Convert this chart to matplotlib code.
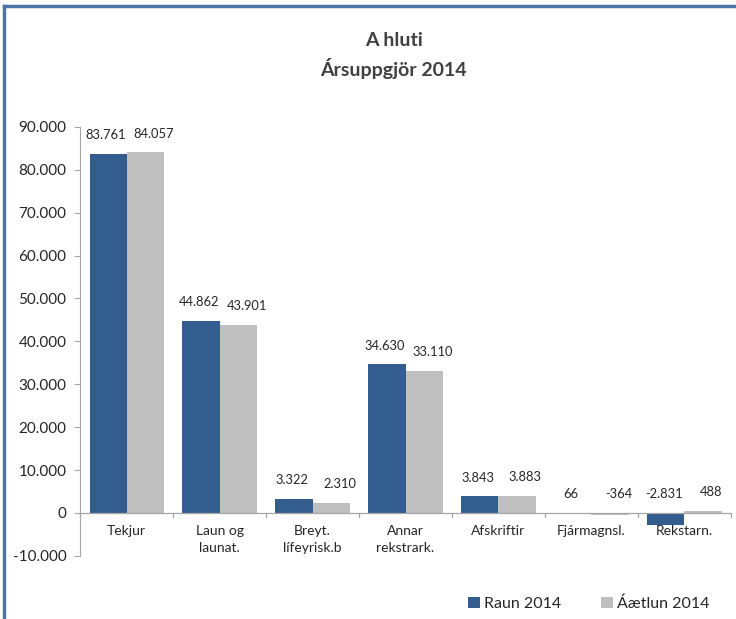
import matplotlib.pyplot as plt
import numpy as np
from matplotlib.lines import Line2D

categories = ['Tekjur', 'Laun og\nlaunat.', 'Breyt.\nlífeyrisk.b', 'Annar\nrekstrark.',
              'Afskriftir', 'Fjármagnsl.', 'Rekstarn.']
raun = [83761, 44862, 3322, 34630, 3843, 66, -2831]
aaetlun = [84057, 43901, 2310, 33110, 3883, -364, 488]
series_names = ['Raun 2014', 'Áætlun 2014']

blue = '#335C8F'
grey = '#BFBFBF'
txt = '#262626'

plt.rcParams['font.family'] = ['Lato', 'DejaVu Sans']

def fmt(v):
    s = f'{abs(int(v)):,}'.replace(',', '.')
    return '-' + s if v < 0 else s

fig = plt.figure(figsize=(7.36, 6.19), dpi=100)
ax = fig.add_axes([0.109, 0.102, 0.884, 0.693])

x = np.arange(len(categories))
w = 0.4
b1 = ax.bar(x - w / 2, raun, w, color=blue, label=series_names[0])
b2 = ax.bar(x + w / 2, aaetlun, w, color=grey, label=series_names[1])

# labels pushed apart a little, like the Excel original
for bars, vals, dx in ((b1, raun, -1.5), (b2, aaetlun, 6)):
    for r, v in zip(bars, vals):
        ax.annotate(fmt(v), (r.get_x() + r.get_width() / 2, max(v, 0) + 4400),
                    xytext=(dx, 0), textcoords='offset points',
                    ha='center', va='center', fontsize=9.3, color=txt)

ax.set_xlim(-0.5, len(categories) - 0.5)
ax.set_ylim(-10000, 90000)
ax.set_yticks(np.arange(-10000, 90001, 10000))
ax.set_yticklabels([fmt(t) for t in np.arange(-10000, 90001, 10000)], fontsize=11, color=txt)
ax.set_xticks([])
ax.tick_params(axis='y', length=4, color='#A6A6A6', pad=6)

for xi, c in zip(x, categories):
    ax.text(xi, -2800, c, ha='center', va='top', fontsize=10, color=txt, linespacing=1.5)

for b in np.arange(-0.5, len(categories), 1.0):
    ax.plot([b, b], [0, -900], color='#A6A6A6', lw=0.9, clip_on=False)
ax.axhline(0, color='#A6A6A6', lw=0.9)

for s in ['top', 'right', 'bottom']:
    ax.spines[s].set_visible(False)
ax.spines['left'].set_color('#A6A6A6')

fig.text(0.535, 0.935, 'A hluti', ha='center', va='center', fontsize=14,
         fontweight='bold', color='#404040')
fig.text(0.535, 0.89, 'Ársuppgjör 2014', ha='center', va='center', fontsize=14,
         fontweight='bold', color='#404040')

ax.legend(loc='center right', bbox_to_anchor=(0.99, -0.112), bbox_transform=ax.transAxes,
          ncol=2, frameon=False, fontsize=11.5, handlelength=0.7, handleheight=0.7,
          columnspacing=2.5, handletextpad=0.3, labelcolor=txt)

fig.add_artist(Line2D([0.006, 0.006], [0, 0.99], color='#4F74A8', lw=2.5))
fig.add_artist(Line2D([0.006, 1.0], [0.99, 0.99], color='#4F74A8', lw=2.5))

fig.savefig('out.png', dpi=100)
